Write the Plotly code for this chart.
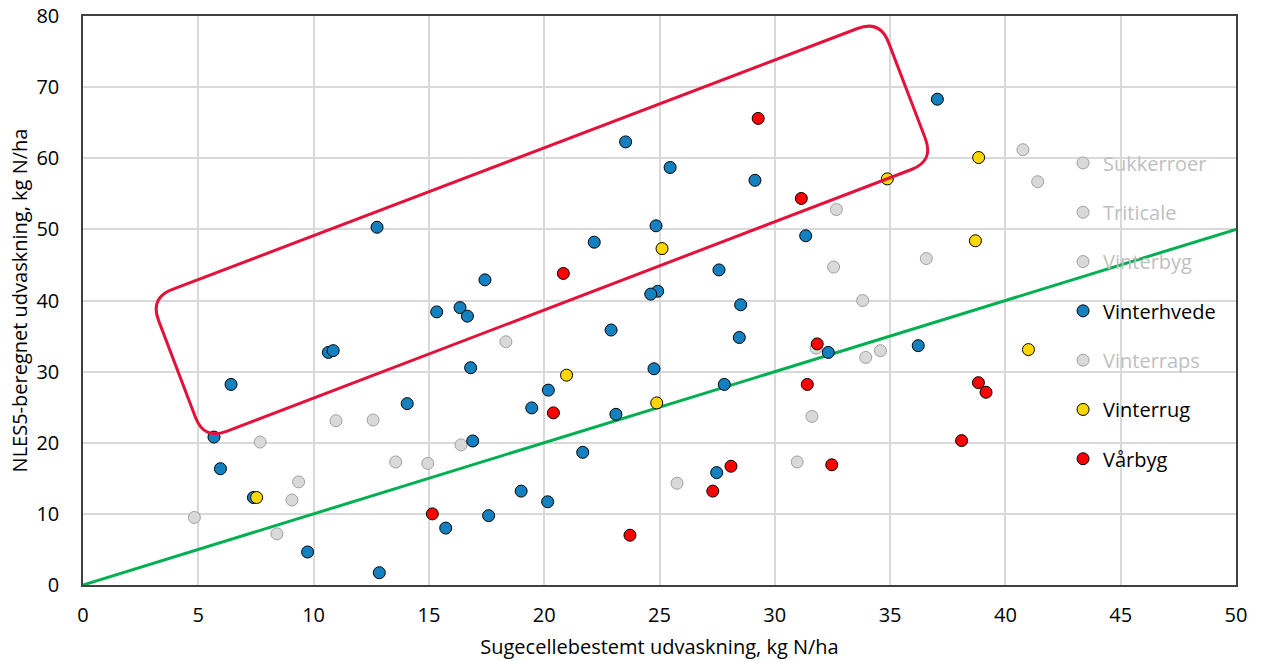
import math
import plotly.graph_objects as go

# ---------------- data ----------------
series_names = ["Sukkerroer", "Triticale", "Vinterbyg", "Vinterhvede", "Vinterraps", "Vinterrug", "Vårbyg"]

sukkerroer_x = [40.76, 41.4, 36.57, 33.81]
sukkerroer_y = [61.2, 56.7, 45.9, 40.0]

triticale_x = [18.34, 25.76, 4.83]
triticale_y = [34.2, 14.3, 9.5]

vinterbyg_x = [7.68, 9.06, 9.35, 8.41, 10.97, 12.58, 13.56, 14.95, 16.39]
vinterbyg_y = [20.1, 11.95, 14.5, 7.2, 23.1, 23.2, 17.3, 17.1, 19.7]

vinterraps_x = [30.97, 31.61, 31.79, 33.94, 34.58, 32.55, 32.67]
vinterraps_y = [17.3, 23.7, 33.3, 32.0, 32.95, 44.7, 52.8]

vinterhvede_x = [37.05, 23.53, 25.46, 29.14, 12.75, 24.85, 31.34, 22.17, 27.58, 17.43,
                 24.92, 24.62, 28.52, 16.35, 15.34, 16.67, 22.9, 28.46, 10.64, 10.85,
                 16.81, 24.76, 6.42, 20.18, 27.81, 14.06, 19.46, 23.11, 5.68, 16.9,
                 21.67, 5.96, 27.48, 19.0, 7.39, 20.15, 17.59, 15.73, 9.74, 12.85,
                 32.32, 36.22]
vinterhvede_y = [68.3, 62.3, 58.7, 56.9, 50.3, 50.5, 49.1, 48.2, 44.3, 42.9,
                 41.3, 40.9, 39.4, 39.0, 38.4, 37.8, 35.85, 34.8, 32.7, 32.95,
                 30.55, 30.4, 28.2, 27.4, 28.2, 25.5, 24.9, 24.0, 20.8, 20.25,
                 18.65, 16.35, 15.8, 13.2, 12.3, 11.7, 9.75, 8.0, 4.64, 1.73,
                 32.7, 33.65]

vinterrug_x = [38.84, 34.88, 38.7, 25.11, 41.0, 20.97, 24.88, 7.53]
vinterrug_y = [60.1, 57.1, 48.4, 47.3, 33.1, 29.5, 25.6, 12.3]

vaarbyg_x = [29.28, 31.15, 20.83, 31.84, 31.41, 38.83, 39.16, 20.4, 38.1, 28.1,
             32.47, 27.31, 15.15, 23.72]
vaarbyg_y = [65.6, 54.35, 43.8, 33.9, 28.2, 28.45, 27.1, 24.2, 20.3, 16.7,
             16.9, 13.2, 10.0, 7.0]

# 1:1 line
line_x = [0, 50]
line_y = [0, 50]

x_ticks = [0, 5, 10, 15, 20, 25, 30, 35, 40, 45, 50]
y_ticks = [0, 10, 20, 30, 40, 50, 60, 70, 80]

x_title = "Sugecellebestemt udvaskning, kg N/ha"
y_title = "NLES5-beregnet udvaskning, kg N/ha"

# ---------------- styling ----------------
W, H = 1261, 661
M_L, M_R, M_T, M_B = 83, 25, 16, 76
FONT = "Open Sans"
GREY_FILL = "#D9D9D9"
GREY_LINE = "#A0A0A0"
GREY_TEXT = "#BFBFBF"

styles = {
    "Sukkerroer": (GREY_FILL, GREY_LINE, GREY_TEXT),
    "Triticale": (GREY_FILL, GREY_LINE, GREY_TEXT),
    "Vinterbyg": (GREY_FILL, GREY_LINE, GREY_TEXT),
    "Vinterhvede": ("#1380C0", "#000000", "#000000"),
    "Vinterraps": (GREY_FILL, GREY_LINE, GREY_TEXT),
    "Vinterrug": ("#FFD700", "#000000", "#000000"),
    "Vårbyg": ("#FF0000", "#000000", "#000000"),
}
data = {
    "Sukkerroer": (sukkerroer_x, sukkerroer_y),
    "Triticale": (triticale_x, triticale_y),
    "Vinterbyg": (vinterbyg_x, vinterbyg_y),
    "Vinterhvede": (vinterhvede_x, vinterhvede_y),
    "Vinterraps": (vinterraps_x, vinterraps_y),
    "Vinterrug": (vinterrug_x, vinterrug_y),
    "Vårbyg": (vaarbyg_x, vaarbyg_y),
}
draw_order = ["Sukkerroer", "Triticale", "Vinterbyg", "Vinterraps", "Vinterhvede", "Vinterrug", "Vårbyg"]

fig = go.Figure()

fig.add_trace(go.Scatter(x=line_x, y=line_y, mode="lines",
                         line=dict(color="#00B050", width=3),
                         showlegend=False, hoverinfo="skip"))

for name in draw_order:
    fill, outline, tcol = styles[name]
    xs, ys = data[name]
    fig.add_trace(go.Scatter(
        x=xs, y=ys, mode="markers",
        name=f'<span style="color:{tcol}">{name}</span>',
        legendgroup=name,
        legendrank=series_names.index(name) + 1,
        marker=dict(size=12, color=fill, line=dict(color=outline, width=1)),
    ))

# ---------------- rounded highlight rectangle (shape) ----------------
plot_w = W - M_L - M_R
plot_h = H - M_T - M_B
sx = plot_w / 50.0
sy = plot_h / 80.0
rect_corners = [(2.905, 40.36), (34.56, 79.44), (36.90, 59.62), (5.25, 20.39)]
radius_px = 24

pc = [(cx * sx, -cy * sy) for cx, cy in rect_corners]  # pixel-ish space


def to_data(p):
    return (p[0] / sx, -p[1] / sy)


def toward(a, b, d):
    dx, dy = b[0] - a[0], b[1] - a[1]
    n = math.hypot(dx, dy)
    return (a[0] + dx / n * d, a[1] + dy / n * d)


parts = []
n = len(pc)
for i in range(n):
    c = pc[i]
    prev = pc[i - 1]
    nxt = pc[(i + 1) % n]
    s = to_data(toward(c, prev, radius_px))
    e = to_data(toward(c, nxt, radius_px))
    cd = to_data(c)
    parts.append(("M" if i == 0 else "L") + f" {s[0]:.4f},{s[1]:.4f}")
    parts.append(f"Q {cd[0]:.4f},{cd[1]:.4f} {e[0]:.4f},{e[1]:.4f}")
path = " ".join(parts) + " Z"

fig.add_shape(type="path", path=path, xref="x", yref="y",
              line=dict(color="#E4113B", width=3), fillcolor="rgba(0,0,0,0)")

axis_common = dict(showline=True, linecolor="#404040", linewidth=1.5, mirror=True,
                   showgrid=True, gridcolor="#D9D9D9", gridwidth=1.5,
                   zeroline=False, ticks="", ticklabeloverflow="allow",
                   tickfont=dict(family=FONT, size=20, color="#000000"))

fig.update_xaxes(range=[0, 50], tickvals=x_ticks, ticktext=[str(v) for v in x_ticks],
                 title=dict(text=x_title, font=dict(family=FONT, size=20, color="#000000"), standoff=13),
                 ticklabelstandoff=11, **axis_common)
fig.update_yaxes(range=[0, 80], tickvals=y_ticks, ticktext=[str(v) for v in y_ticks],
                 title=dict(text=y_title, font=dict(family=FONT, size=20, color="#000000"), standoff=3),
                 ticklabelstandoff=18, **axis_common)

fig.update_layout(
    width=W, height=H,
    margin=dict(l=M_L, r=M_R, t=M_T, b=M_B, autoexpand=False),
    paper_bgcolor="white", plot_bgcolor="white",
    font=dict(family=FONT, size=20, color="#000000"),
    showlegend=True,
    legend=dict(x=0.850, xanchor="left", y=0.776, yanchor="top",
                bgcolor="rgba(0,0,0,0)", borderwidth=0,
                font=dict(family=FONT, size=20, color="#000000"),
                traceorder="grouped", tracegroupgap=20.3, itemclick=False),
    hovermode="closest",
)

# remove the browser's default 8px body margin so the figure fills the window
fig.write_html("out.html",
               config={"displayModeBar": False},
               post_script="document.body.style.margin='0';document.body.style.overflow='hidden';")
